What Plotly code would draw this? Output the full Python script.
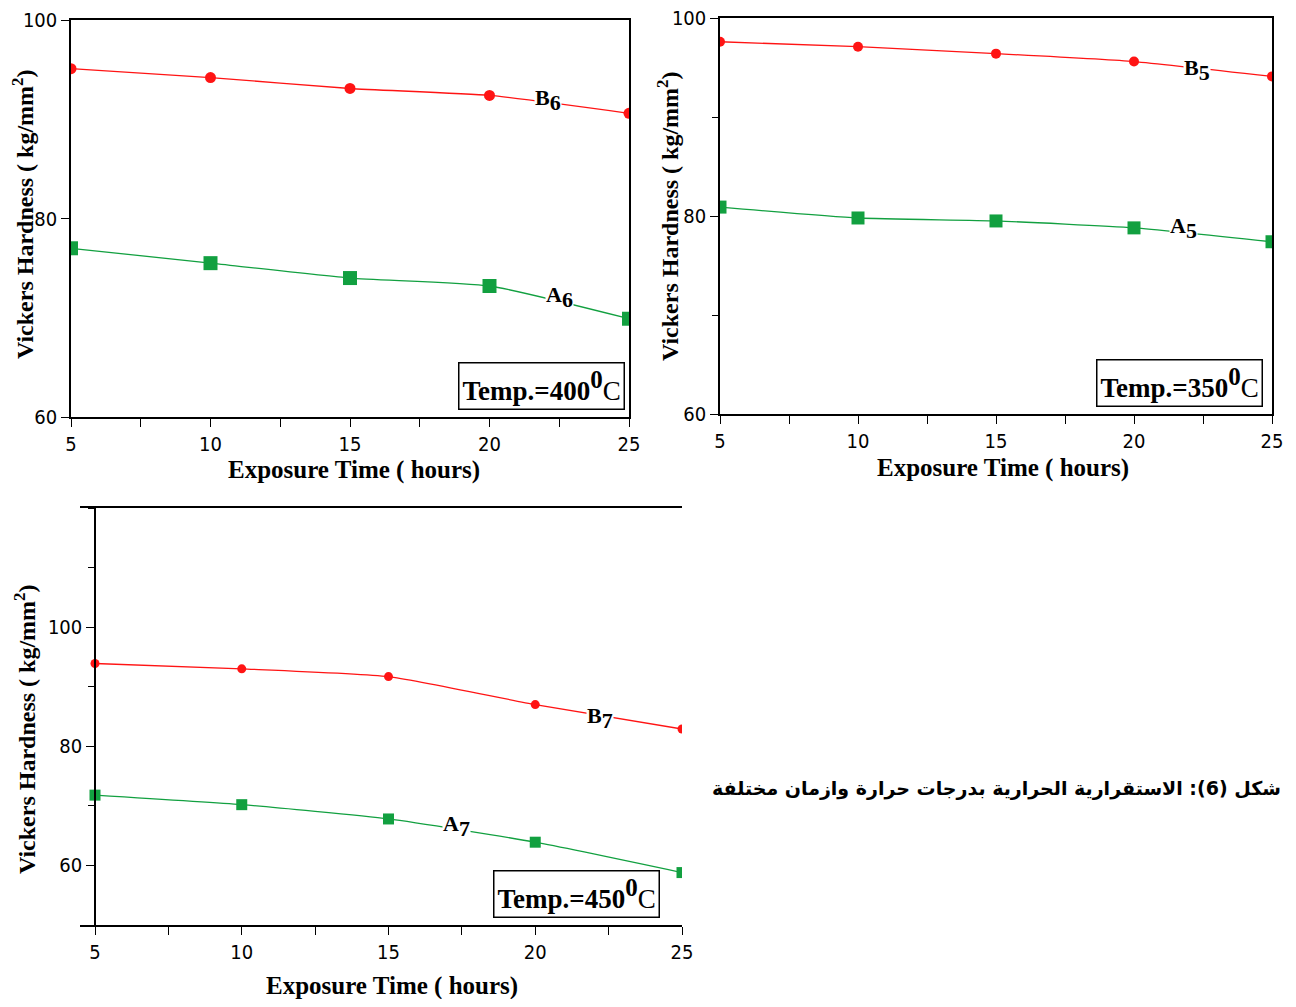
import plotly.graph_objects as go

# ---------------- data ----------------
hours = [5, 10, 15, 20, 25]
b6 = [95.1, 94.2, 93.1, 92.4, 90.6]
a6 = [77.0, 75.5, 74.0, 73.2, 69.9]
b5 = [97.6, 97.1, 96.4, 95.6, 94.1]
a5 = [80.9, 79.8, 79.5, 78.8, 77.4]
b7 = [93.9, 93.0, 91.7, 87.0, 82.9]
a7 = [71.8, 70.2, 67.8, 63.9, 58.8]

series_names = [("B", "6"), ("A", "6"), ("B", "5"), ("A", "5"), ("B", "7"), ("A", "7")]
temp_labels = ["400", "350", "450"]
x_title = "Exposure Time ( hours)"
y_title = "Vickers Hardness ( kg/mm<sup>2</sup>)"
caption = "شكل (6): الاستقرارية الحرارية بدرجات حرارة وازمان مختلفة"

RED = "#ff1414"
GREEN = "#12a040"
OFF = 8  # page body margin
W, H = 1280, 991
TICKFONT = dict(family="DejaVu Sans Condensed, Liberation Sans Narrow, sans-serif", size=20, color="black")
TITLEFONT = dict(family="Liberation Serif, Times New Roman, serif", size=25, color="black")
YTITLEFONT = dict(family="Liberation Serif, Times New Roman, serif", size=24, color="black")

fig = go.Figure()

def add_pair(b, a, xa, ya, cs, ss):
    fig.add_trace(go.Scatter(x=hours, y=b, mode="lines+markers", xaxis=xa, yaxis=ya,
                             line=dict(color=RED, width=1.3, shape="spline", smoothing=0.5),
                             marker=dict(symbol="circle", size=cs, color=RED), showlegend=False))
    fig.add_trace(go.Scatter(x=hours, y=a, mode="lines+markers", xaxis=xa, yaxis=ya,
                             line=dict(color=GREEN, width=1.3, shape="spline", smoothing=0.5),
                             marker=dict(symbol="square", size=ss, color=GREEN), showlegend=False))

add_pair(b6, a6, "x", "y", 11, 14)
add_pair(b5, a5, "x2", "y2", 10, 13)
add_pair(b7, a7, "x3", "y3", 9, 11)

def px(v):
    return (v - OFF) / W

def py(v):
    return 1 - (v - OFF) / H

common_x = dict(showline=True, linecolor="black", linewidth=1.5, mirror=True, ticks="outside",
                ticklen=8, tickcolor="black", tickwidth=1.2, tickvals=hours, tickfont=TICKFONT,
                showgrid=False, zeroline=False, automargin=False, ticklabeloverflow="allow",
                minor=dict(ticks="outside", tick0=5, dtick=2.5, ticklen=8, tickcolor="black", showgrid=False))
common_y = dict(showline=True, linecolor="black", linewidth=1.5, mirror=True, ticks="outside",
                ticklen=8, tickcolor="black", tickwidth=1.2, tickvals=[60, 80, 100], tickfont=TICKFONT,
                showgrid=False, zeroline=False, automargin=False, ticklabeloverflow="allow")

fig.update_layout(
    width=W, height=H, margin=dict(l=0, r=0, t=0, b=0),
    paper_bgcolor="white", plot_bgcolor="white",
    xaxis=dict(common_x, domain=[px(71), px(629)], range=[5, 25], anchor="y"),
    yaxis=dict(common_y, domain=[py(417), py(20)], range=[60, 100], anchor="x"),
    xaxis2=dict(common_x, domain=[px(720), px(1272)], range=[5, 25], anchor="y2"),
    yaxis2=dict(common_y, domain=[py(414), py(18)], range=[60, 100], anchor="x2",
                minor=dict(ticks="outside", tick0=60, dtick=10, ticklen=6, tickcolor="black", showgrid=False)),
    xaxis3=dict(common_x, domain=[px(80), px(682)], range=[4.489, 25], anchor="y3"),
    yaxis3=dict(common_y, domain=[py(925), py(508)], range=[50, 120], anchor="free", position=px(95),
                minor=dict(ticks="outside", tick0=50, dtick=10, ticklen=6, tickcolor="black", showgrid=False)),
)

# axis titles (placed as paper annotations)
xt_pos = [(354, 470), (1003, 468), (392, 986)]
yt_pos = [(23, 215), (668, 217), (25, 730)]
for (tx, ty) in xt_pos:
    fig.add_annotation(x=px(tx), y=py(ty), xref="paper", yref="paper", xanchor="center", yanchor="middle",
                       text="<b>" + x_title + "</b>", showarrow=False, font=TITLEFONT)
for (tx, ty) in yt_pos:
    fig.add_annotation(x=px(tx), y=py(ty), xref="paper", yref="paper", xanchor="center", yanchor="middle",
                       text="<b>" + y_title + "</b>", showarrow=False, font=YTITLEFONT, textangle=-90)

# series labels placed on curves
label_pos = [(22.1, 91.9, "x", "y"), (22.5, 72.1, "x", "y"),
             (22.3, 94.7, "x2", "y2"), (21.8, 78.8, "x2", "y2"),
             (22.2, 84.8, "x3", "y3"), (17.3, 66.7, "x3", "y3")]
LABELFONT = dict(family="Liberation Serif, Times New Roman, serif", size=22, color="black")
for (letter, sub), (lx, ly, xr, yr) in zip(series_names, label_pos):
    txt = "<b>" + letter + "<sub><span style='font-size:22px'>" + sub + "</span></sub></b>"
    fig.add_annotation(x=lx, y=ly, xref=xr, yref=yr, text=txt, showarrow=False,
                       font=LABELFONT, bgcolor="white", borderpad=0)

# temperature boxes
box_pos = [(0.993, 0.018, "x domain", "y domain"), (0.984, 0.018, "x2 domain", "y2 domain"),
           (0.963, 0.017, "x3 domain", "y3 domain")]
BOXFONT = dict(family="Liberation Serif, Times New Roman, serif", size=27, color="black")
for t, (bx, by, xr, yr) in zip(temp_labels, box_pos):
    fig.add_annotation(x=bx, y=by, xref=xr, yref=yr, xanchor="right", yanchor="bottom",
                       text="<b>Temp.=" + t + "<sup><span style='font-size:25px'>0</span></sup></b>C",
                       showarrow=False,
                       font=BOXFONT, bgcolor="white", bordercolor="black", borderwidth=1.5, borderpad=3)

fig.add_annotation(x=px(1283), y=py(788), xref="paper", yref="paper", xanchor="right", yanchor="middle",
                   text="<b>" + caption + "</b>", showarrow=False,
                   font=dict(family="DejaVu Sans, Noto Sans, sans-serif", size=19, color="black"))

fig.write_html("out.html")
